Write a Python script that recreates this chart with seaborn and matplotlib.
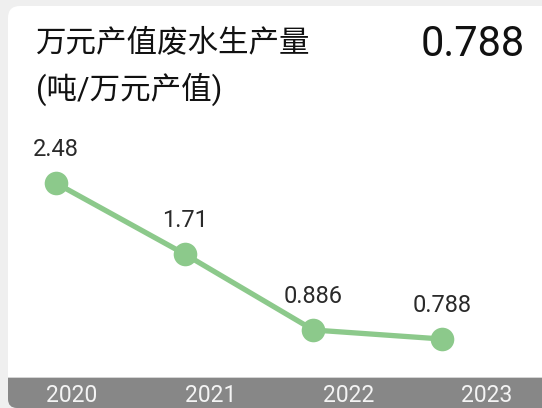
import matplotlib
matplotlib.use('Agg')
import matplotlib.pyplot as plt
from matplotlib.patches import FancyBboxPatch, Rectangle
from matplotlib.transforms import IdentityTransform
import pandas as pd
import seaborn as sns

# dados
years = ['2020', '2021', '2022', '2023']
values = [2.48, 1.71, 0.886, 0.788]
value_labels = ['2.48', '1.71', '0.886', '0.788']
title_line1 = '万元产值废水生产量'
title_line2 = '(吨/万元产值)'
latest_label = '0.788'

green = '#8cc98b'
bar_gray = '#878787'
bg_gray = '#efefef'

sns.set_style('white')
plt.rcParams['font.family'] = ['Roboto', 'Noto Sans CJK SC', 'DejaVu Sans']

W, H = 542, 408
fig = plt.figure(figsize=(W / 100, H / 100), dpi=100, facecolor=bg_gray)

# cartão branco e barra cinza inferior (em pixels), atrás dos eixos
px = IdentityTransform()
fig.add_artist(FancyBboxPatch((8, 0), 580, 402, boxstyle='round,pad=0,rounding_size=12',
                              transform=px, facecolor='white', edgecolor='none', zorder=-3))
fig.add_artist(FancyBboxPatch((8, 0), 580, 30, boxstyle='round,pad=0,rounding_size=9',
                              transform=px, facecolor=bar_gray, edgecolor='none', zorder=-2))
fig.add_artist(Rectangle((8, 14), 580, 16, transform=px, facecolor=bar_gray,
                         edgecolor='none', zorder=-2))
fig.add_artist(Rectangle((8, 30), 580, 1.2, transform=px, facecolor='#d4d4d4',
                         edgecolor='none', zorder=-2))

# eixo principal cobrindo a figura toda
ax = fig.add_axes([0, 0, 1, 1])
ax.patch.set_alpha(0)
df = pd.DataFrame({'idx': range(len(years)), 'value': values})
sns.lineplot(data=df, x='idx', y='value', ax=ax, color=green, linewidth=3.8,
             marker='o', markersize=17, markeredgewidth=0, markerfacecolor=green)
ax.set_xlim(-0.433, 3.775)
ax.set_ylim(0.04, 4.465)
ax.axis('off')

for i, (v, lab) in enumerate(zip(values, value_labels)):
    ax.annotate(lab, (i, v), xytext=(0, 24), textcoords='offset points',
                ha='center', va='center', fontsize=17, color='#2a2a2a')

# títulos
fig.text(36 / W, 1 - 43 / H, title_line1, fontsize=22, ha='left', va='center', color='#111111')
fig.text(36 / W, 1 - 89 / H, title_line2, fontsize=22, ha='left', va='center', color='#111111')
fig.text(525 / W, 1 - 45 / H, latest_label, fontsize=30, ha='right', va='center',
         color='#111111')

# rótulos dos anos na barra inferior
bar_ax = fig.add_axes([8 / W, 0, (W - 8) / W, 30 / H])
bar_ax.patch.set_alpha(0)
bar_ax.set_xlim(-0.463, 3.398)
bar_ax.set_ylim(0, 1)
bar_ax.axis('off')
for i, y in enumerate(years):
    bar_ax.text(i, 0.42, y, ha='center', va='center', fontsize=16.5, color='#f4f4f4')

plt.savefig('out.png', dpi=100, facecolor=bg_gray)
